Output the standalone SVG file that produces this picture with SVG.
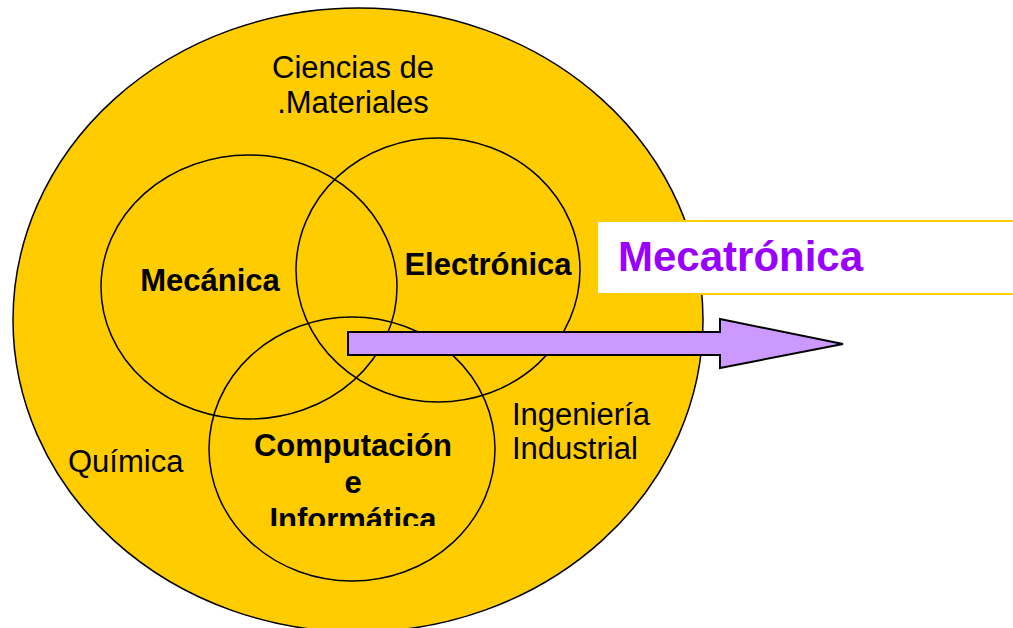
<svg xmlns="http://www.w3.org/2000/svg" width="1013" height="628" viewBox="0 0 1013 628">
<style>
.ring{fill:none;stroke:#000;stroke-width:1.5}
.reg{font-family:"Liberation Sans",Arial,sans-serif;font-size:31px;fill:#000}
.bold{font-family:"Liberation Sans",Arial,sans-serif;font-size:31px;font-weight:bold;fill:#000}
</style>
<defs>
<clipPath id="clipComp"><rect x="0" y="0" width="1013" height="526"/></clipPath>
</defs>
<rect width="1013" height="628" fill="#fff"/>
<g id="outer">
<ellipse cx="358" cy="320" rx="345" ry="312" fill="#FFCC00" stroke="#000" stroke-width="1.5"/>
<text class="reg" x="353" y="78" text-anchor="middle">Ciencias de</text>
<text class="reg" x="353" y="113" text-anchor="middle">.Materiales</text>
<text class="reg" x="68" y="472">Química</text>
<text class="reg" x="512" y="425">Ingeniería</text>
<text class="reg" x="512" y="459">Industrial</text>
</g>
<g id="mecanica">
<ellipse class="ring" cx="249" cy="287" rx="148" ry="132"/>
<text class="bold" x="210" y="291" text-anchor="middle">Mecánica</text>
</g>
<g id="electronica">
<ellipse class="ring" cx="438" cy="270" rx="142" ry="132"/>
<text class="bold" x="488" y="275" text-anchor="middle">Electrónica</text>
</g>
<g id="computacion">
<ellipse class="ring" cx="352" cy="449" rx="143" ry="132"/>
<g clip-path="url(#clipComp)">
<text class="bold" x="353" y="456" text-anchor="middle">Computación</text>
<text class="bold" x="353" y="493" text-anchor="middle">e</text>
<text class="bold" x="353" y="530" text-anchor="middle">Informática</text>
</g>
</g>
<g id="connectors">
<polygon points="348,332 720,332 720,319 843,344 720,368 720,355 348,355" fill="#CC99FF" stroke="#000" stroke-width="2" stroke-linejoin="miter"/>
</g>
<g id="mecatronica">
<rect x="597" y="221" width="430" height="73" fill="#fff" stroke="#FFCC00" stroke-width="2"/>
<text x="618" y="271" font-family="'Liberation Sans',Arial,sans-serif" font-size="42" font-weight="bold" fill="#9900FF">Mecatrónica</text>
</g>
</svg>
